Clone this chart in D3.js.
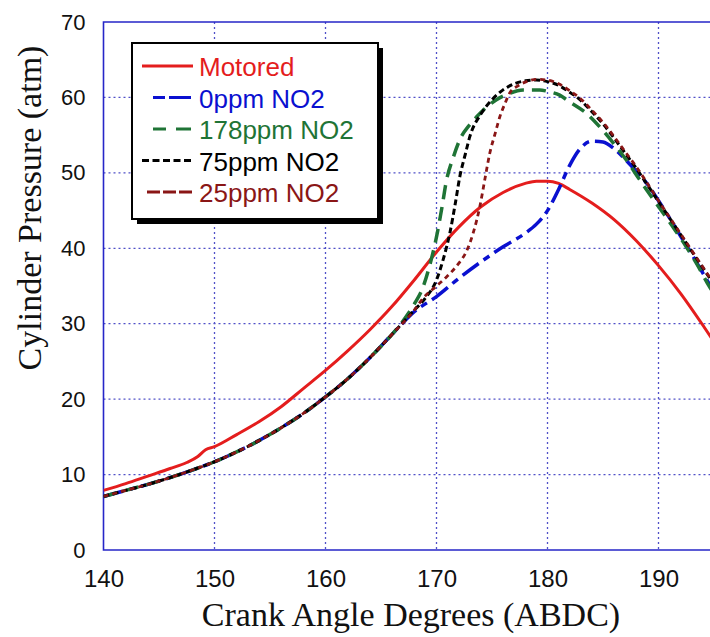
<!DOCTYPE html>
<html>
<head>
<meta charset="utf-8">
<script src="https://cdn.jsdelivr.net/npm/d3@7"></script>
<style>
  body { margin: 0; background: #fff; }
  .tick text { font-family: "Liberation Sans", Arial, sans-serif; fill: #111; }
</style>
</head>
<body>
<svg id="canvas" width="710" height="637"></svg>
<script>
// data (crank angle in degrees, pressure in atm)
var motoredAngle = [140, 142, 144, 146, 147.5, 148.5, 149.2, 150, 152, 154, 156, 158, 160, 162, 164, 166, 168, 170, 172, 174, 176, 178, 179, 180, 181, 182, 184, 186, 188, 190, 192, 194, 195];
var motoredP = [7.9, 8.8, 9.8, 10.8, 11.6, 12.4, 13.3, 13.7, 15.3, 17.0, 19.0, 21.4, 23.8, 26.4, 29.2, 32.3, 35.8, 39.5, 42.8, 45.5, 47.4, 48.6, 48.9, 48.9, 48.6, 47.8, 46.0, 43.8, 41.0, 37.7, 34.0, 29.8, 27.6];

var no0Angle = [140, 142, 144, 146, 148, 150, 152, 154, 156, 158, 160, 162, 164, 166, 168, 170, 172, 174, 176, 178, 179, 180, 181, 182, 183, 184, 185, 186, 187, 188, 189, 190, 191, 192, 193, 194, 195];
var no0P = [7.1, 7.9, 8.7, 9.6, 10.6, 11.7, 13.0, 14.5, 16.2, 18.1, 20.3, 22.7, 25.5, 28.6, 31.6, 33.6, 36.0, 38.2, 40.2, 42.0, 43.2, 45.0, 47.8, 51.0, 53.3, 54.2, 54.1, 53.2, 51.8, 50.2, 48.5, 46.3, 44.0, 41.6, 39.2, 36.7, 34.2];

var no178Angle = [140, 142, 144, 146, 148, 150, 152, 154, 156, 158, 160, 162, 164, 166, 167, 168, 168.8, 169.4, 170, 170.5, 170.9, 171.5, 172.1, 173, 173.6, 174.5, 175.4, 176.5, 177.8, 179.3, 180, 181.1, 182, 183.5, 185, 185.9, 187, 188.3, 189, 190.4, 191.5, 192.5, 193.5, 194.6, 195];
var no178P = [7.1, 7.9, 8.7, 9.6, 10.6, 11.7, 13.0, 14.5, 16.2, 18.1, 20.3, 22.7, 25.5, 28.6, 30.4, 32.6, 34.9, 37.8, 41.5, 45.5, 49.0, 52.0, 54.4, 56.4, 57.4, 58.7, 59.7, 60.5, 61.0, 61.0, 60.8, 60.3, 59.4, 57.9, 55.6, 54.0, 51.9, 49.1, 47.6, 44.7, 42.4, 40.2, 37.8, 34.9, 34.0];

var no75Angle = [140, 142, 144, 146, 148, 150, 152, 154, 156, 158, 160, 162, 164, 166, 167, 168, 169, 170, 170.6, 171.2, 171.7, 172.1, 172.6, 173, 174, 175, 176, 177, 178, 179, 180, 181, 182, 183, 184, 185, 186, 187, 188, 189, 190, 191, 192, 193, 194, 195];
var no75P = [7.1, 7.9, 8.7, 9.6, 10.6, 11.7, 13.0, 14.5, 16.2, 18.1, 20.3, 22.7, 25.5, 28.6, 30.2, 31.8, 33.4, 35.8, 38.5, 42.0, 46.0, 49.5, 52.5, 54.8, 57.8, 59.7, 61.0, 61.8, 62.2, 62.3, 62.1, 61.6, 60.7, 59.6, 58.1, 56.5, 54.6, 52.6, 50.6, 48.4, 46.2, 44.0, 41.8, 39.6, 37.4, 35.2];

var no25Angle = [140, 142, 144, 146, 148, 150, 152, 154, 156, 158, 160, 162, 164, 166, 168, 168.8, 170, 170.9, 172, 172.7, 173.3, 173.9, 174.4, 174.8, 175.3, 175.7, 176.2, 176.6, 177.3, 178.1, 179, 180, 181, 182, 183, 184, 185, 186, 187, 188, 189, 190, 191, 192, 193, 194, 195];
var no25P = [7.1, 7.9, 8.7, 9.6, 10.6, 11.7, 13.0, 14.5, 16.2, 18.1, 20.3, 22.7, 25.5, 28.6, 31.8, 33.4, 35.0, 36.2, 38.0, 39.6, 42.0, 45.5, 49.5, 52.6, 55.3, 57.4, 59.3, 60.6, 61.5, 62.1, 62.4, 62.3, 61.8, 60.9, 59.8, 58.3, 56.7, 54.8, 52.8, 50.8, 48.6, 46.3, 44.1, 41.9, 39.7, 37.5, 35.3];

var seriesNames = ['Motored', '0ppm NO2', '178ppm NO2', '75ppm NO2', '25ppm NO2'];
var xTicks = [140, 150, 160, 170, 180, 190];
var yTicks = [0, 10, 20, 30, 40, 50, 60, 70];

var canvas = d3.select('#canvas');
var width = +canvas.attr('width');
var height = +canvas.attr('height');

var margin = { left: 103.5, right: 0, top: 22, bottom: 87 };

var xScale = d3.scaleLinear()
  .domain([140, 194.64])
  .range([margin.left, width - margin.right]);

var yScale = d3.scaleLinear()
  .domain([0, 70])
  .range([height - margin.bottom, margin.top]);

var x0 = xScale(140), y0 = yScale(0), yTop = yScale(70);

// dotted grid
var grid = canvas.append('g');
grid.selectAll('.vg').data(xTicks.slice(1)).enter().append('line')
  .attr('x1', function(d) { return xScale(d); })
  .attr('x2', function(d) { return xScale(d); })
  .attr('y1', yTop).attr('y2', y0)
  .style('stroke', '#5050c8').style('stroke-width', 1.3)
  .style('stroke-dasharray', '2,3');
grid.selectAll('.hg').data(yTicks.slice(1, -1)).enter().append('line')
  .attr('x1', x0).attr('x2', width)
  .attr('y1', function(d) { return yScale(d); })
  .attr('y2', function(d) { return yScale(d); })
  .style('stroke', '#5050c8').style('stroke-width', 1.3)
  .style('stroke-dasharray', '2,3');

// frame (left, bottom, top)
canvas.append('path')
  .attr('d', 'M' + width + ',' + yTop + 'H' + x0 + 'V' + y0 + 'H' + width)
  .style('fill', 'none').style('stroke', '#2626c8').style('stroke-width', 1.6);

// axes, labels only
var xAxis = d3.axisBottom(xScale).tickValues(xTicks).tickSize(0).tickPadding(20);
canvas.append('g')
  .attr('transform', 'translate(0,' + y0 + ')')
  .call(xAxis)
  .call(function(g) { g.select('.domain').remove(); })
  .selectAll('text').style('font-size', '24px');

var yAxis = d3.axisLeft(yScale).tickValues(yTicks).tickSize(0).tickPadding(18);
canvas.append('g')
  .attr('transform', 'translate(' + x0 + ',0)')
  .call(yAxis)
  .call(function(g) { g.select('.domain').remove(); })
  .selectAll('text').style('font-size', '22px');

// axis titles
canvas.append('text')
  .attr('x', 411).attr('y', 626)
  .attr('text-anchor', 'middle')
  .style('font-family', '"Liberation Serif", "Times New Roman", serif')
  .style('font-size', '34px').style('fill', '#111')
  .text('Crank Angle Degrees (ABDC)');

canvas.append('text')
  .attr('transform', 'translate(41,208) rotate(-90)')
  .attr('text-anchor', 'middle')
  .style('font-family', '"Liberation Serif", "Times New Roman", serif')
  .style('font-size', '34px').style('fill', '#111')
  .text('Cylinder Pressure (atm)');

// curves
canvas.append('clipPath').attr('id', 'plotclip')
  .append('rect').attr('x', x0).attr('y', yTop)
  .attr('width', width - x0).attr('height', y0 - yTop);

var series = [
  { name: seriesNames[0], a: motoredAngle, p: motoredP, color: '#e41d1d', w: 3, dash: null, legDash: null },
  { name: seriesNames[1], a: no0Angle, p: no0P, color: '#0a10d0', w: 3.5, dash: '20,6,7,6', legDash: '12,4,22,100' },
  { name: seriesNames[2], a: no178Angle, p: no178P, color: '#1f7436', w: 3.5, dash: '14,8', legDash: '13,10,15,100' },
  { name: seriesNames[3], a: no75Angle, p: no75P, color: '#000000', w: 3, dash: '6,3.5', legDash: '7,3.5' },
  { name: seriesNames[4], a: no25Angle, p: no25P, color: '#8a1616', w: 2.8, dash: '5,4', legDash: '13,3' }
];

var line = d3.line()
  .x(function(d) { return xScale(d[0]); })
  .y(function(d) { return yScale(d[1]); })
  .curve(d3.curveMonotoneX);

var lines = canvas.append('g').attr('clip-path', 'url(#plotclip)');
series.forEach(function(s) {
  var pts = d3.zip(s.a, s.p);
  lines.append('path')
    .datum(pts)
    .attr('d', line)
    .style('fill', 'none')
    .style('stroke', s.color)
    .style('stroke-width', s.w)
    .style('stroke-dasharray', s.dash);
});

// legend with drop shadow
var legend = canvas.append('g');
legend.append('rect')
  .attr('x', 137).attr('y', 48).attr('width', 246).attr('height', 176)
  .style('fill', '#000');
legend.append('rect')
  .attr('x', 132).attr('y', 43).attr('width', 246).attr('height', 176)
  .style('fill', '#fff').style('stroke', '#000').style('stroke-width', 2);

var legX1 = [142, 153, 153, 142, 147];
series.forEach(function(s, i) {
  var yb = 76 + i * 31.5;
  legend.append('line')
    .attr('x1', legX1[i]).attr('x2', 193)
    .attr('y1', yb - 10).attr('y2', yb - 10)
    .style('stroke', s.color).style('stroke-width', 3.2)
    .style('stroke-dasharray', s.legDash);
  legend.append('text')
    .attr('x', 199).attr('y', yb)
    .style('font-family', '"Liberation Sans", Arial, sans-serif')
    .style('font-size', '26px')
    .style('fill', s.color)
    .text(s.name);
});
</script>
</body>
</html>
